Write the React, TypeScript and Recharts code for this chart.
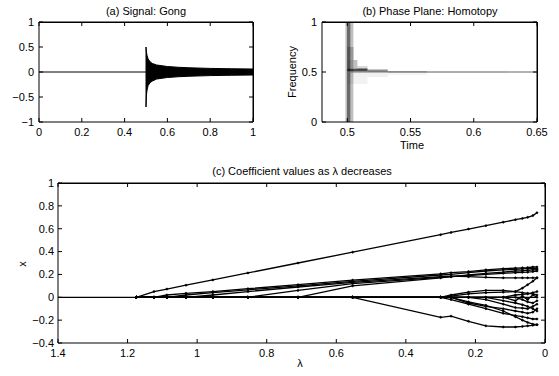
import { ComposedChart, LineChart, Line, Area, XAxis, YAxis, ReferenceArea } from 'recharts';

const FONT = '"Liberation Sans", Arial, Helvetica, sans-serif';
const W = 559;
const H = 376;

// (a) Signal: Gong -- flat before the strike, then the envelope of the oscillation
const quietTime = [0, 0.5];
const quietValue = [0, 0];
const gongTime = [0.5, 0.5, 0.502, 0.505, 0.51, 0.52, 0.53, 0.55, 0.6, 0.65, 0.7, 0.8, 0.9, 1.0];
const gongHigh = [0, 0.5, 0.4, 0.33, 0.26, 0.2, 0.17, 0.14, 0.11, 0.095, 0.085, 0.072, 0.065, 0.06];
const gongLow = [0, -0.7, -0.46, -0.36, -0.27, -0.21, -0.18, -0.14, -0.11, -0.095, -0.085, -0.072, -0.065, -0.06];

// (b) Phase plane: time-frequency tiles (start, end, low freq, high freq, energy)
const tileTimeStart = [0.4985, 0.4998, 0.5, 0.5, 0.508, 0.5, 0.516, 0.532, 0.563, 0.5, 0.532, 0.5];
const tileTimeEnd = [0.5048, 0.5024, 0.505, 0.508, 0.516, 0.516, 0.532, 0.563, 0.626, 0.532, 0.563, 0.516];
const tileFreqLow = [0, 0, 0.62, 0.54, 0.52, 0.505, 0.5, 0.495, 0.497, 0.45, 0.47, 0.38];
const tileFreqHigh = [1, 1, 0.75, 0.62, 0.56, 0.535, 0.525, 0.51, 0.503, 0.49, 0.495, 0.45];
const tileEnergy = [0.25, 0.45, 0.2, 0.25, 0.15, 0.7, 0.45, 0.3, 0.2, 0.06, 0.04, 0.05];
const ridgeTime = [0.5, 0.65];
const ridgeFreq = [0.5, 0.5];

// (c) Coefficient paths at the homotopy breakpoints
const lambda = [1.4, 1.175, 1.124, 1.087, 1.032, 0.955, 0.854, 0.71, 0.553, 0.3, 0.27, 0.22, 0.17, 0.12, 0.085, 0.065, 0.05, 0.035, 0.023];
const zeroPath = [0, 0, 0, 0, 0, 0, 0, 0, 0, 0, 0, 0, 0, 0, 0, 0, 0, 0, 0];
const p1 = [null, 0, 0.05, 0.072, 0.106, 0.152, 0.213, 0.3, 0.395, 0.548, 0.567, 0.597, 0.627, 0.657, 0.679, 0.69, 0.7, 0.715, 0.74];
const p2 = [null, 0, 0, 0.02, 0.035, 0.05, 0.075, 0.11, 0.15, 0.205, 0.215, 0.225, 0.24, 0.25, 0.255, 0.258, 0.26, 0.265, 0.265];
const p3 = [null, 0, 0, 0, 0.02, 0.04, 0.065, 0.1, 0.14, 0.195, 0.2, 0.215, 0.23, 0.24, 0.245, 0.248, 0.25, 0.25, 0.25];
const p4 = [null, 0, 0, 0, 0, 0.02, 0.05, 0.09, 0.13, 0.18, 0.185, 0.18, 0.175, 0.17, 0.17, 0.17, 0.17, 0.17, 0.17];
const p5 = [null, 0, 0, 0, 0, 0, 0, 0.06, 0.12, 0.175, 0.18, 0.19, 0.2, 0.21, 0.215, 0.218, 0.22, 0.225, 0.23];
const p6 = [null, 0, 0, 0, 0, 0, 0, 0, 0.1, 0.17, 0.18, 0.195, 0.21, 0.22, 0.23, 0.232, 0.235, 0.24, 0.24];
const n1 = [null, 0, 0, 0, 0, 0, 0, 0, 0, -0.175, -0.165, -0.21, -0.25, -0.26, -0.26, -0.255, -0.25, -0.245, -0.24];
const n2 = [null, 0, 0, 0, 0, 0, 0, 0, 0, 0, -0.02, -0.06, -0.1, -0.14, -0.16, -0.17, -0.18, -0.19, -0.19];
const n3 = [null, 0, 0, 0, 0, 0, 0, 0, 0, 0, 0, -0.04, -0.07, -0.12, -0.17, -0.2, -0.22, -0.235, -0.24];
const q1 = [null, 0, 0, 0, 0, 0, 0, 0, 0, 0, 0.02, 0.045, 0.06, 0.06, 0.05, 0.04, 0.035, 0.03, 0.02];
const q2 = [null, 0, 0, 0, 0, 0, 0, 0, 0, 0, 0.01, 0.03, 0.04, 0.045, 0.05, 0.08, 0.11, 0.14, 0.17];
const r1 = [null, 0, 0, 0, 0, 0, 0, 0, 0, 0, 0, 0, 0, -0.03, -0.05, -0.065, -0.08, -0.1, -0.12];
const r2 = [null, 0, 0, 0, 0, 0, 0, 0, 0, 0, 0, 0, 0, 0, 0.02, 0.025, 0.03, 0.04, 0.05];
const r3 = [null, 0, 0, 0, 0, 0, 0, 0, 0, 0, 0, 0, -0.02, -0.06, -0.09, -0.095, -0.1, -0.08, -0.06];
const r4 = [null, 0, 0, 0, 0, 0, 0, 0, 0, 0, 0, 0, 0, 0, 0, -0.02, -0.04, -0.05, -0.03];
const r5 = [null, 0, 0, 0, 0, 0, 0, 0, 0, 0, 0, -0.05, -0.08, -0.1, -0.12, -0.13, -0.14, -0.13, -0.1];
const r6 = [null, 0, 0, 0, 0, 0, 0, 0, 0, 0, 0, 0, 0, 0, -0.03, 0.01, -0.02, 0.02, 0];

const paths: Record<string, (number | null)[]> = { p1, p2, p3, p4, p5, p6, n1, n2, n3, q1, q2, r1, r2, r3, r4, r5, r6 };

const ticksA_x = [0, 0.2, 0.4, 0.6, 0.8, 1];
const ticksA_y = [-1, -0.5, 0, 0.5, 1];
const ticksB_x = [0.5, 0.55, 0.6, 0.65];
const ticksB_y = [0, 0.5, 1];
const ticksC_x = [0, 0.2, 0.4, 0.6, 0.8, 1, 1.2, 1.4];
const ticksC_y = [-0.4, -0.2, 0, 0.2, 0.4, 0.6, 0.8, 1];

const quietData = quietTime.map((x, i) => ({ x, v: quietValue[i] }));
const gongData = gongTime.map((x, i) => ({ x, band: [gongLow[i], gongHigh[i]] }));
const ridgeData = ridgeTime.map((x, i) => ({ x, f: ridgeFreq[i] }));
const pathData = lambda.map((x, i) => {
  const row: Record<string, number | null> = { x, zero: zeroPath[i] };
  Object.keys(paths).forEach((k) => (row[k] = paths[k][i]));
  return row;
});

const fmt = (v: number) => String(v).replace('-', '\u2212');
const blank = () => '';
const tickStyle = { fill: '#000', fontSize: 11, fontFamily: FONT };

function Caption({ x, y, text, rotate }: { x: number; y: number; text: string; rotate?: boolean }) {
  return (
    <div
      style={{
        position: 'absolute',
        left: x,
        top: y,
        transform: `translate(-50%, -50%)${rotate ? ' rotate(-90deg)' : ''}`,
        fontFamily: FONT,
        fontSize: 11,
        lineHeight: '11px',
        whiteSpace: 'nowrap',
        color: '#000',
      }}
    >
      {text}
    </div>
  );
}

// closes the top and right sides of a plot box
function Frame({ left, top, right, bottom }: { left: number; top: number; right: number; bottom: number }) {
  return (
    <div
      style={{
        position: 'absolute',
        left,
        top,
        width: right - left,
        height: bottom - top,
        boxSizing: 'border-box',
        borderTop: '1px solid #000',
        borderRight: '1px solid #000',
        pointerEvents: 'none',
      }}
    />
  );
}

const layer: React.CSSProperties = { position: 'absolute', left: 0, top: 0 };

export default function App() {
  return (
    <div style={{ position: 'absolute', left: 0, top: 0, width: W, height: H, background: '#fff', overflow: 'hidden' }}>
      <div style={layer}>
        <ComposedChart width={W} height={H} data={gongData} margin={{ top: 14, right: 298, bottom: 224, left: 9 }}>
          <XAxis xAxisId={0} dataKey="x" type="number" domain={[0, 1]} ticks={ticksA_x} height={30} stroke="#000" tickSize={-4} tickMargin={10} tick={tickStyle} tickFormatter={fmt} />
          <XAxis xAxisId="top" dataKey="x" orientation="top" type="number" domain={[0, 1]} ticks={ticksA_x} height={8} stroke="#000" tickSize={-4} tick={tickStyle} tickFormatter={blank} />
          <YAxis yAxisId={0} type="number" domain={[-1, 1]} ticks={ticksA_y} width={30} stroke="#000" tickSize={-4} tickMargin={9} tick={tickStyle} tickFormatter={fmt} />
          <YAxis yAxisId="right" orientation="right" type="number" domain={[-1, 1]} ticks={ticksA_y} width={8} stroke="#000" tickSize={-4} tick={tickStyle} tickFormatter={blank} />
          <Area type="linear" dataKey="band" fill="#000" fillOpacity={1} stroke="#000" strokeWidth={1} isAnimationActive={false} dot={false} activeDot={false} />
          <Line data={quietData} xAxisId="top" yAxisId="right" type="linear" dataKey="v" stroke="#000" strokeWidth={1} dot={false} activeDot={false} isAnimationActive={false} />
        </ComposedChart>
      </div>

      <div style={layer}>
        <ComposedChart width={W} height={H} data={ridgeData} margin={{ top: 14, right: 14, bottom: 224, left: 292 }}>
          <XAxis xAxisId={0} dataKey="x" type="number" domain={[0.48, 0.65]} ticks={ticksB_x} allowDataOverflow height={30} stroke="#000" tickSize={-4} tickMargin={10} tick={tickStyle} tickFormatter={fmt} />
          <XAxis xAxisId="top" dataKey="x" orientation="top" type="number" domain={[0.48, 0.65]} ticks={ticksB_x} height={8} stroke="#000" tickSize={-4} tick={tickStyle} tickFormatter={blank} />
          <YAxis yAxisId={0} type="number" domain={[0, 1]} ticks={ticksB_y} allowDataOverflow width={30} stroke="#000" tickSize={-4} tickMargin={9} tick={tickStyle} tickFormatter={fmt} />
          <YAxis yAxisId="right" orientation="right" type="number" domain={[0, 1]} ticks={ticksB_y} width={8} stroke="#000" tickSize={-4} tick={tickStyle} tickFormatter={blank} />
          {tileTimeStart.map((t0, i) => (
            <ReferenceArea key={i} x1={t0} x2={tileTimeEnd[i]} y1={tileFreqLow[i]} y2={tileFreqHigh[i]}
              fill="#000" fillOpacity={tileEnergy[i]} stroke="none" ifOverflow="visible" />
          ))}
          <Line xAxisId="top" yAxisId="right" type="linear" dataKey="f" stroke="#666" strokeWidth={1} dot={false} activeDot={false} isAnimationActive={false} />
        </ComposedChart>
      </div>

      <div style={layer}>
        <LineChart width={W} height={H} data={pathData} margin={{ top: 175, right: 6, bottom: 3, left: 28 }}>
          <XAxis xAxisId={0} dataKey="x" type="number" domain={[0, 1.4]} ticks={ticksC_x} reversed height={30} stroke="#000" tickSize={-4} tickMargin={10} tick={tickStyle} tickFormatter={fmt} />
          <XAxis xAxisId="top" dataKey="x" orientation="top" type="number" domain={[0, 1.4]} ticks={ticksC_x} reversed height={8} stroke="#000" tickSize={-4} tick={tickStyle} tickFormatter={blank} />
          <YAxis yAxisId={0} type="number" domain={[-0.4, 1]} ticks={ticksC_y} width={30} stroke="#000" tickSize={-4} tickMargin={8} tick={tickStyle} tickFormatter={fmt} />
          <YAxis yAxisId="right" orientation="right" type="number" domain={[-0.4, 1]} ticks={ticksC_y} width={8} stroke="#000" tickSize={-4} tick={tickStyle} tickFormatter={blank} />
          <Line xAxisId="top" yAxisId="right" type="linear" dataKey="zero" stroke="#000" strokeWidth={1.3} dot={false} activeDot={false} isAnimationActive={false} />
          {Object.keys(paths).map((k) => (
            <Line key={k} type="linear" dataKey={k} stroke="#000" strokeWidth={1.3}
              dot={{ r: 1, fill: '#000', stroke: '#000', strokeWidth: 0.6 }} activeDot={false} isAnimationActive={false} />
          ))}
        </LineChart>
      </div>

      <Frame left={39} top={22} right={254} bottom={122} />
      <Frame left={322} top={22} right={538} bottom={122} />
      <Frame left={58} top={183} right={546} bottom={343} />

      <Caption x={146} y={11} text="(a) Signal: Gong" />
      <Caption x={430} y={11} text="(b) Phase Plane: Homotopy" />
      <Caption x={412} y={145} text="Time" />
      <Caption x={292} y={72} text="Frequency" rotate />
      <Caption x={302} y={171} text="(c) Coefficient values as λ decreases" />
      <Caption x={300} y={363} text="λ" />
      <Caption x={22} y={264} text="x" rotate />
    </div>
  );
}
